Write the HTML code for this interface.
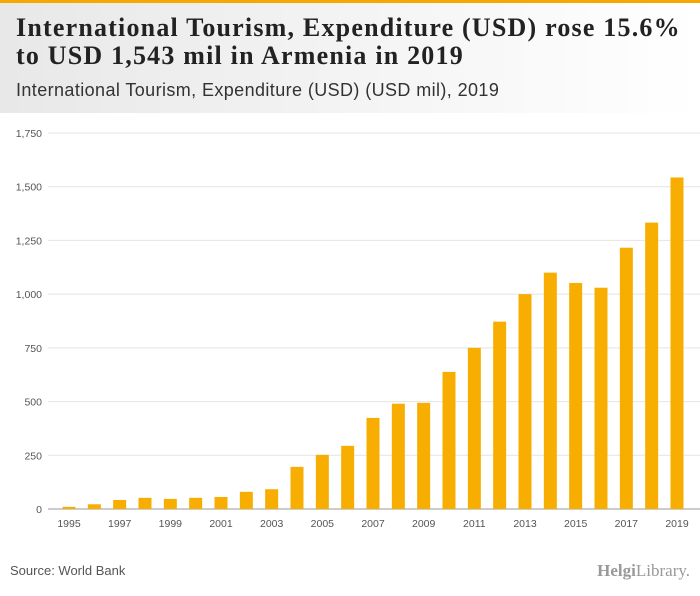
<!DOCTYPE html>
<html><head><meta charset="utf-8">
<style>
body{margin:0;width:700px;height:596px;background:#fff;font-family:"Liberation Sans",sans-serif;overflow:hidden;position:relative}
#topbar{position:absolute;left:0;top:0;width:700px;height:3px;background:#f5a800}
#header{position:absolute;left:0;top:3px;width:700px;height:110px;background:linear-gradient(90deg,#e8e8e8,#f6f6f6 60%,#fff)}
#title{position:absolute;left:16px;top:14px;font-family:"Liberation Serif",serif;font-weight:bold;font-size:26px;letter-spacing:1.2px;line-height:28px;color:#222;white-space:nowrap}
#subtitle{position:absolute;left:16px;top:80px;font-size:18px;letter-spacing:0.4px;color:#333;white-space:nowrap}
#source{position:absolute;left:10px;top:563px;font-size:13px;color:#555}
#logo{position:absolute;right:10px;top:561px;font-size:17px;color:#999;font-family:"Liberation Serif",serif}
svg{position:absolute;left:0;top:0}
</style></head><body>
<div id="topbar"></div>
<div id="header"></div>
<div id="title">International Tourism, Expenditure (USD) rose 15.6%<br>to USD 1,543 mil in Armenia in 2019</div>
<div id="subtitle">International Tourism, Expenditure (USD) (USD mil), 2019</div>
<svg id="chart" width="700" height="596"></svg>
<div id="source">Source: World Bank</div>
<div id="logo"><b>Helgi</b>Library.</div>
<script>
const years=[1995,1996,1997,1998,1999,2000,2001,2002,2003,2004,2005,2006,2007,2008,2009,2010,2011,2012,2013,2014,2015,2016,2017,2018,2019];
const values=[10,22,42,52,47,52,56,80,92,196,252,294,424,490,494,638,750,872,1000,1100,1052,1030,1216,1333,1543];
const ticks=[0,250,500,750,1000,1250,1500,1750];
const tickLabels=["0","250","500","750","1,000","1,250","1,500","1,750"];
const NS="http://www.w3.org/2000/svg";
const svg=document.getElementById('chart');
const y0=509,y1=133,vmax=1750,x0=69,x1=677;
const y=v=>y0-(v/vmax)*(y0-y1);
const x=i=>x0+i*(x1-x0)/(years.length-1);
function mk(t,a){const e=document.createElementNS(NS,t);for(const k in a)e.setAttribute(k,a[k]);svg.appendChild(e);return e;}
ticks.forEach((t,i)=>{
 const g=mk('line',{x1:48,x2:700,y1:y(t),y2:y(t),stroke:i==0?'#999':'#e4e4e4','stroke-width':1});
 
 
 const l=mk('text',{x:42,y:y(t)+4,'text-anchor':'end','font-size':10.5,fill:'#555','font-family':'Liberation Sans'});
 l.textContent=tickLabels[i];
 
 
});
years.forEach((yr,i)=>{
 const b=mk('rect',{x:x(i)-6.5,y:y(values[i]),width:13,height:y0-y(values[i]),fill:'#f7ae00'});
 
 
 if(i%2==0){
  const l=mk('text',{x:x(i),y:527,'text-anchor':'middle','font-size':10.5,fill:'#555','font-family':'Liberation Sans'});
  l.textContent=yr;
  
  
 }
});
</script>
</body></html>
